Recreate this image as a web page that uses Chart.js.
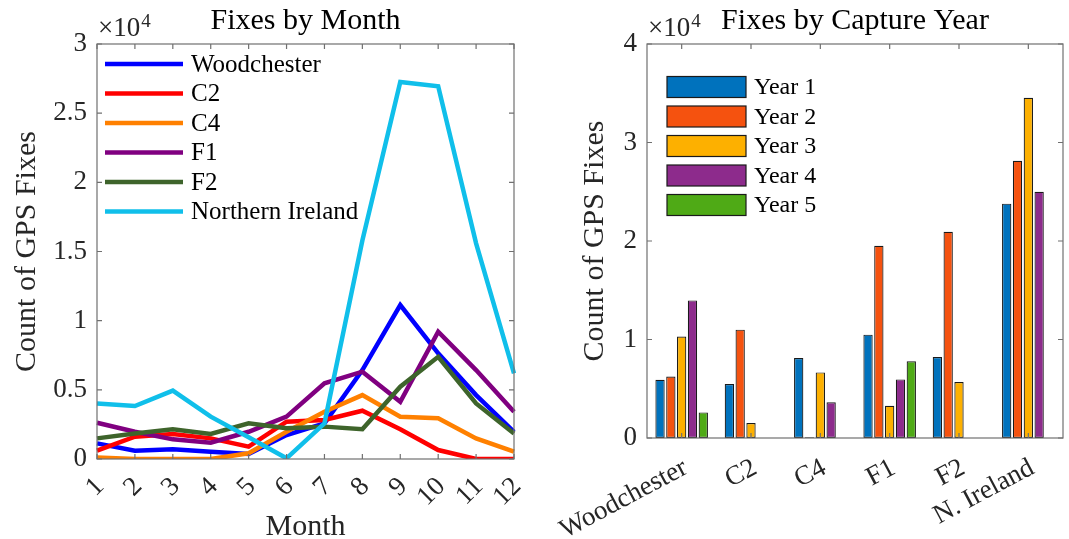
<!DOCTYPE html>
<html><head><meta charset="utf-8">
<script src="https://cdn.jsdelivr.net/npm/chart.js@4.4.1/dist/chart.umd.min.js"></script>
<style>
html,body{margin:0;padding:0;background:#fff;}
#wrap{position:relative;width:1069px;height:539px;overflow:hidden;background:#fff;}
#c1{position:absolute;left:0;top:0;width:540px;height:539px;}
#c2{position:absolute;left:540px;top:0;width:529px;height:539px;}
</style></head><body>
<div id="wrap"><canvas id="c1" width="540" height="539"></canvas><canvas id="c2" width="529" height="539"></canvas></div>
<script>
// ---------- data: left chart (fixes by month) ----------
const months = ['1','2','3','4','5','6','7','8','9','10','11','12'];
const woodchester = [1130, 600, 700, 530, 360, 1730, 2580, 6430, 11130, 7640, 4620, 1970];
const c2 = [600, 1610, 1810, 1490, 890, 2700, 2820, 3490, 2150, 650, 0, 0];
const c4 = [100, 0, 0, 0, 410, 1970, 3420, 4620, 3060, 2940, 1490, 530];
const f1 = [2620, 1970, 1420, 1180, 1970, 3060, 5470, 6310, 4140, 9200, 6430, 3420];
const f2 = [1490, 1850, 2150, 1810, 2580, 2220, 2340, 2150, 5230, 7390, 4020, 1850];
const northernIreland = [4020, 3830, 4940, 3060, 1570, 50, 2580, 15800, 27260, 26950, 15590, 6190];
const lineNames = ['Woodchester', 'C2', 'C4', 'F1', 'F2', 'Northern Ireland'];

// ---------- data: right chart (fixes by capture year) ----------
const sites = ['Woodchester', 'C2', 'C4', 'F1', 'F2', 'N. Ireland'];
const year1 = [5920, 5480, 8120, 10490, 8220, 23790];
const year2 = [6250, 11000, 80, 19520, 20940, 28150];
const year3 = [10300, 1520, 6660, 3280, 5680, 34550];
const year4 = [13970, null, 3620, 5950, null, 25000];
const year5 = [2600, null, null, 7780, null, null];
const yearNames = ['Year 1', 'Year 2', 'Year 3', 'Year 4', 'Year 5'];

const FONT = "'Liberation Serif', 'Times New Roman', serif";
Chart.defaults.font.family = FONT;
Chart.defaults.color = '#262626';
Chart.defaults.animation = false;

const lineColors = ['#0000FF', '#FF0000', '#FF8000', '#800080', '#3E642B', '#10BFEA'];
const barColors = ['#0072BD', '#F5520F', '#FDB000', '#8D2B8C', '#4FAA16'];

// frame + inward ticks + title + exponent + legend
const decor = {
  id: 'decor',
  afterDatasetsDraw(chart, args, o) {
    const ctx = chart.ctx, a = chart.chartArea, xs = chart.scales.x, ys = chart.scales.y;
    ctx.save();
    ctx.strokeStyle = '#707070';
    ctx.lineWidth = 1.2;
    const L = a.left, R = a.right, T = a.top, B = a.bottom;
    ctx.strokeRect(L, T, R - L, B - T);
    const tl = o.tickLen;
    ctx.beginPath();
    xs.ticks.forEach((t, i) => {
      const px = xs.getPixelForTick(i);
      ctx.moveTo(px, B); ctx.lineTo(px, B - tl);
      ctx.moveTo(px, T); ctx.lineTo(px, T + tl);
    });
    ys.ticks.forEach((t, i) => {
      const py = ys.getPixelForTick(i);
      ctx.moveTo(L, py); ctx.lineTo(L + tl, py);
      ctx.moveTo(R, py); ctx.lineTo(R - tl, py);
    });
    ctx.stroke();
    ctx.restore();
  },
  afterDraw(chart, args, o) {
    const ctx = chart.ctx, a = chart.chartArea;
    ctx.save();
    // title
    ctx.fillStyle = '#000';
    ctx.font = o.titleSize + 'px ' + FONT;
    ctx.textAlign = 'center';
    ctx.textBaseline = 'alphabetic';
    ctx.fillText(o.title, (a.left + a.right) / 2, o.titleY);
    // exponent
    ctx.fillStyle = '#262626';
    ctx.textAlign = 'left';
    ctx.font = o.expSize + 'px ' + FONT;
    const base = '\u00D710';
    ctx.fillText(base, a.left + 1, o.expY);
    const w = ctx.measureText(base).width;
    ctx.font = Math.round(o.expSize * 0.7) + 'px ' + FONT;
    ctx.fillText('4', a.left + 2 + w, o.expY - 9);
    // legend
    const lg = o.legend;
    ctx.font = lg.size + 'px ' + FONT;
    ctx.textBaseline = 'middle';
    chart.data.datasets.forEach((ds, i) => {
      const cy = lg.y0 + i * lg.dy;
      if (lg.type === 'line') {
        ctx.strokeStyle = ds.borderColor;
        ctx.lineWidth = ds.borderWidth;
        ctx.beginPath();
        ctx.moveTo(lg.x0, cy); ctx.lineTo(lg.x1, cy);
        ctx.stroke();
      } else {
        ctx.fillStyle = ds.backgroundColor;
        ctx.fillRect(lg.x0, cy - lg.h / 2, lg.x1 - lg.x0, lg.h);
        ctx.strokeStyle = '#1a1a1a';
        ctx.lineWidth = 1.2;
        ctx.strokeRect(lg.x0, cy - lg.h / 2, lg.x1 - lg.x0, lg.h);
      }
      ctx.fillStyle = '#000';
      ctx.fillText(ds.label, lg.tx, cy + 1);
    });
    ctx.restore();
  }
};

const lineSeries = [woodchester, c2, c4, f1, f2, northernIreland];
new Chart(document.getElementById('c1'), {
  type: 'line',
  data: {
    labels: months,
    datasets: lineSeries.map((d, i) => ({
      label: lineNames[i], data: d, borderColor: lineColors[i], backgroundColor: lineColors[i],
      borderWidth: 4.5, pointRadius: 0, tension: 0, fill: false, order: 5 - i
    }))
  },
  options: {
    responsive: false,
    layout: { padding: { left: 0, right: 26, top: 44, bottom: 0 } },
    plugins: {
      legend: { display: false }, tooltip: { enabled: false },
      decor: { tickLen: 5, title: 'Fixes by Month', titleSize: 30, titleY: 29, expSize: 27, expY: 36,
        legend: { type: 'line', x0: 105, x1: 183, tx: 191, y0: 64, dy: 29.5, size: 25 } }
    },
    scales: {
      x: {
        grid: { display: false, drawTicks: false }, border: { display: false },
        ticks: { autoSkip: false, minRotation: 45, maxRotation: 45, padding: 12, labelOffset: 3, font: { size: 27 } },
        title: { display: true, text: 'Month', font: { size: 30, lineHeight: 0.8 }, padding: { top: 0, bottom: 0 } },
        afterFit: s => { s.height = 80; s.paddingLeft = 0; s.paddingRight = 0; }
      },
      y: {
        min: 0, max: 30000,
        grid: { display: false, drawTicks: false }, border: { display: false },
        ticks: { stepSize: 5000, padding: 10, font: { size: 27 }, callback: v => String(v / 10000) },
        title: { display: true, text: 'Count of GPS Fixes', font: { size: 30, lineHeight: 1 }, padding: { top: 12, bottom: 0 } },
        afterFit: s => { s.width = 97; s.paddingTop = 0; s.paddingBottom = 0; }
      }
    }
  },
  plugins: [decor]
});

const barSeries = [year1, year2, year3, year4, year5];
new Chart(document.getElementById('c2'), {
  type: 'bar',
  data: {
    labels: sites,
    datasets: barSeries.map((d, i) => ({
      label: yearNames[i], data: d, backgroundColor: barColors[i], borderColor: '#1a1a1a', borderWidth: 1.2,
      borderSkipped: false, categoryPercentage: 0.78, barPercentage: 0.86
    }))
  },
  options: {
    responsive: false,
    layout: { padding: { left: 0, right: 6, top: 44, bottom: 0 } },
    plugins: {
      legend: { display: false }, tooltip: { enabled: false },
      decor: { tickLen: 5, title: 'Fixes by Capture Year', titleSize: 30, titleY: 29, expSize: 27, expY: 36,
        legend: { type: 'box', x0: 127, x1: 206, h: 21, tx: 214, y0: 87, dy: 29.5, size: 24 } }
    },
    scales: {
      x: {
        grid: { display: false, drawTicks: false }, border: { display: false },
        ticks: { autoSkip: false, minRotation: 28, maxRotation: 28, padding: 14, labelOffset: 4, font: { size: 27 } },
        afterFit: s => { s.height = 101; s.paddingLeft = 0; s.paddingRight = 0; }
      },
      y: {
        min: 0, max: 40000,
        grid: { display: false, drawTicks: false }, border: { display: false },
        ticks: { stepSize: 10000, padding: 10, font: { size: 27 }, callback: v => String(v / 10000) },
        title: { display: true, text: 'Count of GPS Fixes', font: { size: 30, lineHeight: 1 }, padding: { top: 40, bottom: 0 } },
        afterFit: s => { s.width = 107; s.paddingTop = 0; s.paddingBottom = 0; }
      }
    }
  },
  plugins: [decor]
});
</script>
</body></html>
